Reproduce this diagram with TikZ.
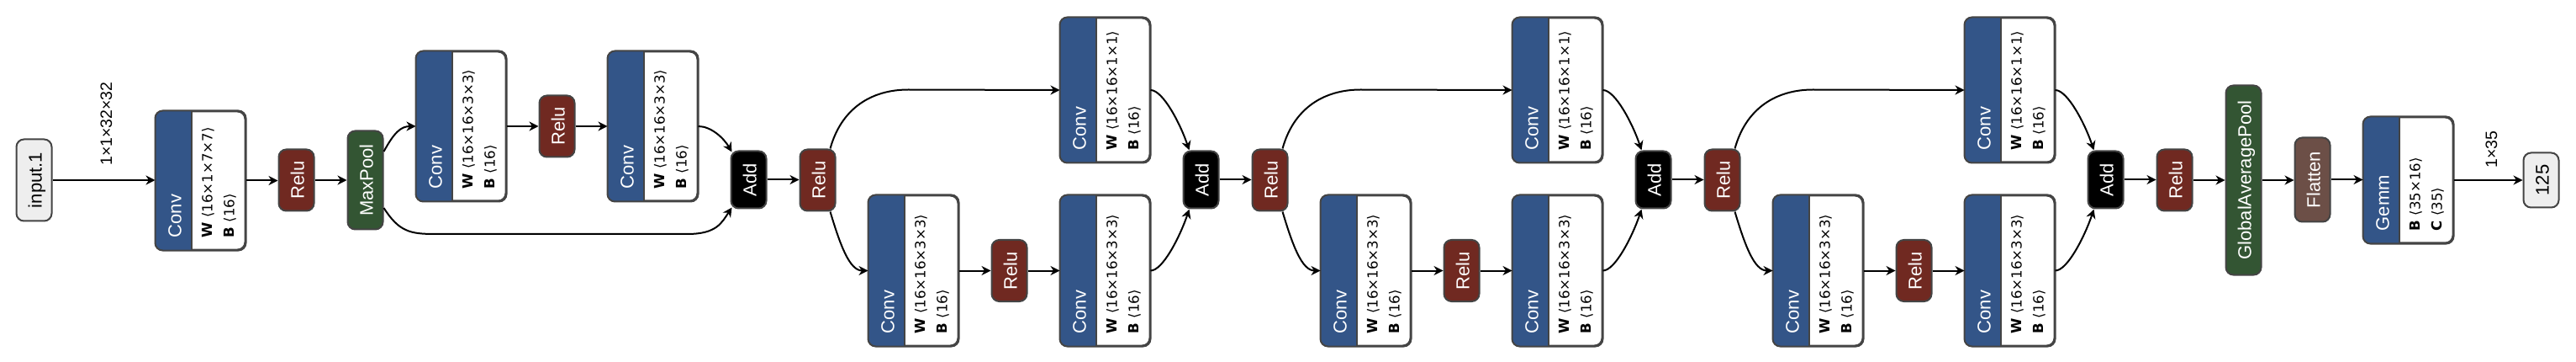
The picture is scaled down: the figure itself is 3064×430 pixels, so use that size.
\documentclass[tikz,border=0pt]{standalone}
\usepackage{fontspec}
\usepackage{graphicx}
\setmainfont{Liberation Sans}
\newfontfamily\dvfont{DejaVu Sans}
\usetikzlibrary{arrows.meta,calc}
\definecolor{convblue}{HTML}{335588}
\definecolor{relured}{HTML}{702921}
\definecolor{poolgreen}{HTML}{335533}
\definecolor{flatbrown}{HTML}{6C4F47}
\definecolor{bordergray}{HTML}{444444}
\definecolor{iofill}{HTML}{EEEEEE}
\newcommand\myl{{\dvfont\char"27E8}}
\newcommand\myr{{\dvfont\char"27E9}}
\tikzset{
  opbox/.style={draw=bordergray, line width=2pt, rounded corners=9pt, inner sep=0pt, minimum width=42pt},
  edge/.style={line width=2pt, -{Stealth[length=11pt,width=11pt,inset=3.5pt]}},
  ttl/.style={rotate=90, inner sep=0pt, font=\fontsize{22pt}{26pt}\selectfont},
  attr/.style={rotate=90, inner sep=0pt, anchor=base west, font=\dvfont\fontsize{16.6pt}{20pt}\selectfont},
  elabel/.style={rotate=90, inner sep=0pt, anchor=base west, font=\fontsize{19.5pt}{22pt}\selectfont},
}
% simple node: name, center, height, fill, text colour, text
\newcommand\simplenode[6]{%
  \node[opbox, fill=#4, minimum height=#3pt] (#1) at (#2) {};
  \node[ttl, text=#5, anchor=base] (#1t) at ($(#1.west)+(31,0)$) {#6};
}
% conv-like node: name, center, height, title, name1, value1, name2, value2
\newcommand\convnode[8]{%
  \node[opbox, fill=white, minimum width=106pt, minimum height=#3pt] (#1) at (#2) {};
  \begin{scope}
    \clip[rounded corners=9pt] (#1.south west) rectangle (#1.north east);
    \fill[convblue] (#1.south west) rectangle ($(#1.north west)+(43,0)$);
  \end{scope}
  \draw[bordergray, line width=2pt] ($(#1.north west)+(43,0)$) -- ($(#1.south west)+(43,0)$);
  \draw[bordergray, line width=2pt, rounded corners=9pt] (#1.south west) rectangle (#1.north east);
  \node[ttl, text=white, anchor=base west] (#1t) at ($(#1.south west)+(31,-15)$) {#4};
  \node[attr] (#1a) at ($(#1.south west)+(68,-15)$) {\textbf{#5}\ #6};
  \node[attr] (#1b) at ($(#1.south west)+(94,-15)$) {\textbf{#7}\ #8};
}
\begin{document}
\begin{tikzpicture}[x=1pt,y=-1pt]
\fill[white] (0,0) rectangle (3064,430);
\useasboundingbox (0,0) rectangle (3064,430);

% ---- nodes ----
\simplenode{in}{40.5,214}{97}{iofill}{black}{input.1}
\convnode{c1}{238.5,214.5}{164}{Conv}{W}{\myl16×1×7×7\myr}{B}{\myl16\myr}
\simplenode{r1}{352.5,214}{73}{relured}{white}{Relu}
\simplenode{mp}{434.5,214}{117}{poolgreen}{white}{MaxPool}
\convnode{c2}{548.5,150}{177}{Conv}{W}{\myl16×16×3×3\myr}{B}{\myl16\myr}
\simplenode{r2}{662.5,150}{73}{relured}{white}{Relu}
\convnode{c3}{776.5,150}{177}{Conv}{W}{\myl16×16×3×3\myr}{B}{\myl16\myr}
\simplenode{a1}{890.5,213.5}{68}{black}{white}{Add}
\simplenode{r3}{972.5,214}{73}{relured}{white}{Relu}

% block 1
\convnode{ct1}{1314.5,107}{171}{Conv}{W}{\myl16×16×1×1\myr}{B}{\myl16\myr}
\convnode{cl1}{1086.5,321.5}{178}{Conv}{W}{\myl16×16×3×3\myr}{B}{\myl16\myr}
\simplenode{rr1}{1200.5,321.5}{73}{relured}{white}{Relu}
\convnode{cr1}{1314.5,321.5}{178}{Conv}{W}{\myl16×16×3×3\myr}{B}{\myl16\myr}
\simplenode{ad1}{1428.5,213.5}{68}{black}{white}{Add}
\simplenode{rl1}{1510.5,214}{73}{relured}{white}{Relu}
% block 2
\convnode{ct2}{1852.5,107}{171}{Conv}{W}{\myl16×16×1×1\myr}{B}{\myl16\myr}
\convnode{cl2}{1624.5,321.5}{178}{Conv}{W}{\myl16×16×3×3\myr}{B}{\myl16\myr}
\simplenode{rr2}{1738.5,321.5}{73}{relured}{white}{Relu}
\convnode{cr2}{1852.5,321.5}{178}{Conv}{W}{\myl16×16×3×3\myr}{B}{\myl16\myr}
\simplenode{ad2}{1966.5,213.5}{68}{black}{white}{Add}
\simplenode{rl2}{2048.5,214}{73}{relured}{white}{Relu}
% block 3
\convnode{ct3}{2390.5,107}{171}{Conv}{W}{\myl16×16×1×1\myr}{B}{\myl16\myr}
\convnode{cl3}{2162.5,321.5}{178}{Conv}{W}{\myl16×16×3×3\myr}{B}{\myl16\myr}
\simplenode{rr3}{2276.5,321.5}{73}{relured}{white}{Relu}
\convnode{cr3}{2390.5,321.5}{178}{Conv}{W}{\myl16×16×3×3\myr}{B}{\myl16\myr}
\simplenode{ad3}{2504.5,213.5}{68}{black}{white}{Add}
\simplenode{rl3}{2586.5,214}{73}{relured}{white}{Relu}

\simplenode{gap}{2668.5,214}{225}{poolgreen}{white}{GlobalAveragePool}
\simplenode{fl}{2750.5,213.5}{100}{flatbrown}{white}{Flatten}
\convnode{gm}{2864.5,214}{149}{Gemm}{B}{\myl35×16\myr}{C}{\myl35\myr}
\simplenode{out}{3022.5,214}{65}{iofill}{black}{125}

% ---- edges ----
\draw[edge] (in.east) -- (in.east -| c1.west);
\node[elabel] (lab1) at (133,197) {1×1×32×32};
\draw[edge] (c1.east) -- (c1.east -| r1.west);
\draw[edge] (r1.east) -- (r1.east -| mp.west);
\draw[edge] ($(mp.east)+(0,-34)$) .. controls +(12,-22) and +(-18,0) .. (c2.west);
\draw[edge] (c2.east) -- (r2.west);
\draw[edge] (r2.east) -- (c3.west);
\draw[edge] (c3.east) .. controls +(15,0) and +(-10,-17) .. ($(a1.north west)+(2,2)$);
\draw[edge] ($(mp.east)+(0,33)$) .. controls +(18,28) and +(-30,0) .. ++(61,31)
   -- ++(300,0) .. controls +(35,0) and +(-12,18) .. ($(a1.south west)+(2,-2)$);
\draw[edge] (a1.east) -- (a1.east -| r3.west);

% block 1 edges
\draw[edge] ($(r3.north east)+(-7,0)$) .. controls +(13,-47) and +(-45,0) .. ++(93,-70) -- (ct1.west);
\draw[edge] ($(r3.south east)+(-7,0)$) .. controls +(12,40) and +(-22,0) .. (cl1.west);
\draw[edge] (cl1.east) -- (rr1.west);
\draw[edge] (rr1.east) -- (cr1.west);
\draw[edge] (ct1.east) .. controls +(15,0) and +(-10,-30) .. ($(ad1.north west)+(8,0)$);
\draw[edge] (cr1.east) .. controls +(15,0) and +(-10,30) .. ($(ad1.south west)+(8,0)$);
\draw[edge] (ad1.east) -- (ad1.east -| rl1.west);
% block 2 edges
\draw[edge] ($(rl1.north east)+(-7,0)$) .. controls +(13,-47) and +(-45,0) .. ++(93,-70) -- (ct2.west);
\draw[edge] ($(rl1.south east)+(-7,0)$) .. controls +(12,40) and +(-22,0) .. (cl2.west);
\draw[edge] (cl2.east) -- (rr2.west);
\draw[edge] (rr2.east) -- (cr2.west);
\draw[edge] (ct2.east) .. controls +(15,0) and +(-10,-30) .. ($(ad2.north west)+(8,0)$);
\draw[edge] (cr2.east) .. controls +(15,0) and +(-10,30) .. ($(ad2.south west)+(8,0)$);
\draw[edge] (ad2.east) -- (ad2.east -| rl2.west);
% block 3 edges
\draw[edge] ($(rl2.north east)+(-7,0)$) .. controls +(13,-47) and +(-45,0) .. ++(93,-70) -- (ct3.west);
\draw[edge] ($(rl2.south east)+(-7,0)$) .. controls +(12,40) and +(-22,0) .. (cl3.west);
\draw[edge] (cl3.east) -- (rr3.west);
\draw[edge] (rr3.east) -- (cr3.west);
\draw[edge] (ct3.east) .. controls +(15,0) and +(-10,-30) .. ($(ad3.north west)+(8,0)$);
\draw[edge] (cr3.east) .. controls +(15,0) and +(-10,30) .. ($(ad3.south west)+(8,0)$);
\draw[edge] (ad3.east) -- (ad3.east -| rl3.west);

\draw[edge] (rl3.east) -- (rl3.east -| gap.west);
\draw[edge] (gap.east) -- (gap.east -| fl.west);
\draw[edge] (fl.east) -- (fl.east -| gm.west);
\draw[edge] (gm.east) -- (gm.east -| out.west);
\node[elabel] (lab2) at (2970,200) {1×35};
\end{tikzpicture}
\end{document}
